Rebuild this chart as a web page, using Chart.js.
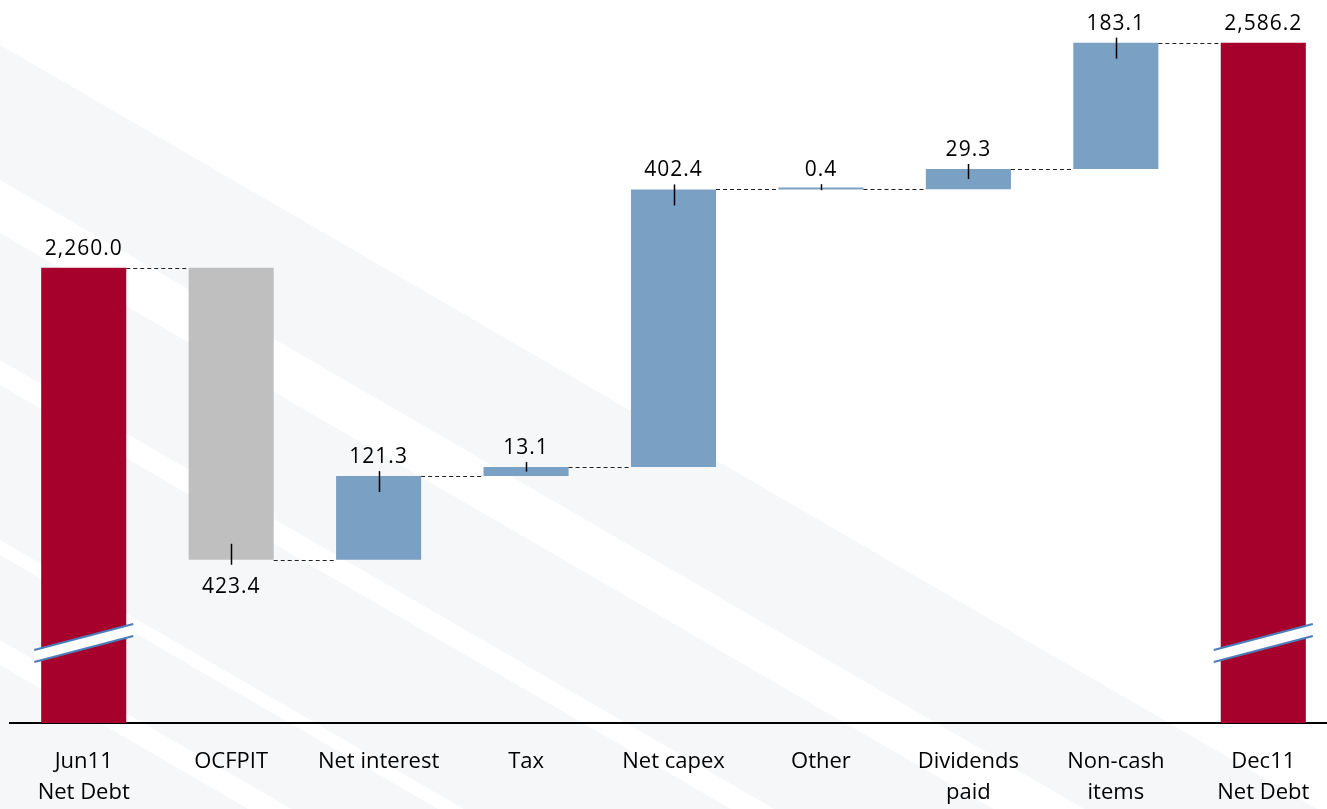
<!DOCTYPE html>
<html>
<head>
<meta charset="utf-8">
<title>Net debt bridge Jun11 - Dec11</title>
<script src="https://cdn.jsdelivr.net/npm/chart.js@4.4.1/dist/chart.umd.min.js"></script>
<style>
  html, body { margin: 0; padding: 0; background: #fff; overflow: hidden; }
  .chart-wrap { position: relative; width: 1340px; height: 809px; }
</style>
</head>
<body>
<div class="chart-wrap"><canvas id="bridgeChart"></canvas></div>
<script>
const categories = [['Jun11', 'Net Debt'], 'OCFPIT', 'Net interest', 'Tax', 'Net capex', 'Other', ['Dividends', 'paid'], ['Non-cash', 'items'], ['Dec11', 'Net Debt']];
const openingDebt = 2260.0;
const closingDebt = 2586.2;
const movements = [-423.4, 121.3, 13.1, 402.4, 0.4, 29.3, 183.1];
const axisMin = 1600;
const axisMax = 2648;

const TOTAL_COLOR = '#A6002C';
const UP_COLOR = '#7AA1C3';
const DOWN_COLOR = '#BFBFBF';
const FONT = '"Open Sans", "Noto Sans", sans-serif';

// floating [start, end] pairs for the bridge
const bars = [[axisMin, openingDebt]];
const colors = [TOTAL_COLOR];
let running = openingDebt;
movements.forEach(m => {
  const next = Math.round((running + m) * 10) / 10;
  bars.push([running, next]);
  colors.push(m < 0 ? DOWN_COLOR : UP_COLOR);
  running = next;
});
bars.push([axisMin, closingDebt]);
colors.push(TOTAL_COLOR);

const labelValues = [openingDebt, ...movements.map(Math.abs), closingDebt];

function fmt(v) {
  return v.toLocaleString('en-US', { minimumFractionDigits: 1, maximumFractionDigits: 1 });
}

// faint diagonal bands behind the chart
const stripes = {
  id: 'stripes',
  beforeDraw(chart) {
    const { ctx, width, height } = chart;
    const slope = 0.58;
    ctx.save();
    ctx.fillStyle = '#fff';
    ctx.fillRect(0, 0, width, height);
    ctx.fillStyle = '#f6f7f9';
    ctx.beginPath();
    ctx.moveTo(0, 45);
    ctx.lineTo(width, 45 + slope * width);
    ctx.lineTo(width, height);
    ctx.lineTo(0, height);
    ctx.closePath();
    ctx.fill();
    ctx.fillStyle = '#fff';
    [[180, 233], [360, 385], [540, 555], [640, 665]].forEach(([a, b]) => {
      ctx.beginPath();
      ctx.moveTo(0, a);
      ctx.lineTo(width, a + slope * width);
      ctx.lineTo(width, b + slope * width);
      ctx.lineTo(0, b);
      ctx.closePath();
      ctx.fill();
    });
    ctx.restore();
  }
};

// connectors, axis-break marks, value labels
const bridgeDecor = {
  id: 'bridgeDecor',
  afterDatasetsDraw(chart) {
    const { ctx } = chart;
    const meta = chart.getDatasetMeta(0);
    const y = chart.scales.y;
    const n = meta.data.length;
    ctx.save();

    ctx.setLineDash([4, 3]);
    ctx.strokeStyle = '#222';
    ctx.lineWidth = 1;
    for (let i = 0; i < n - 1; i++) {
      const a = meta.data[i], b = meta.data[i + 1];
      const yy = Math.round(y.getPixelForValue(bars[i][1])) + 0.5;
      ctx.beginPath();
      ctx.moveTo(a.x + a.width / 2, yy);
      ctx.lineTo(b.x - b.width / 2, yy);
      ctx.stroke();
    }
    ctx.setLineDash([]);

    // break marks on the two totals
    [0, n - 1].forEach(i => {
      const bar = meta.data[i];
      const cy = y.getPixelForValue(1716);
      const half = bar.width / 2 + 7;
      const rise = 13;
      ctx.fillStyle = '#fff';
      ctx.beginPath();
      ctx.moveTo(bar.x - half, cy - 6 + rise);
      ctx.lineTo(bar.x + half, cy - 6 - rise);
      ctx.lineTo(bar.x + half, cy + 6 - rise);
      ctx.lineTo(bar.x - half, cy + 6 + rise);
      ctx.closePath();
      ctx.fill();
      ctx.strokeStyle = '#4A7EBB';
      ctx.lineWidth = 2;
      [-6, 6].forEach(off => {
        ctx.beginPath();
        ctx.moveTo(bar.x - half, cy + off + rise);
        ctx.lineTo(bar.x + half, cy + off - rise);
        ctx.stroke();
      });
    });

    ctx.fillStyle = '#000';
    ctx.strokeStyle = '#000';
    ctx.lineWidth = 1.5;
    ctx.font = '21px ' + FONT;
    ctx.letterSpacing = '1px';
    ctx.textAlign = 'center';
    ctx.textBaseline = 'alphabetic';
    meta.data.forEach((bar, i) => {
      const [s, e] = bars[i];
      const top = y.getPixelForValue(Math.max(s, e));
      const bottom = y.getPixelForValue(Math.min(s, e));
      const isTotal = i === 0 || i === n - 1;
      const rising = isTotal || e >= s;
      const text = fmt(labelValues[i]);
      const tx = Math.round(bar.x) + 0.5;
      const reach = Math.max(1, Math.min(16, (bottom - top) / 2));
      if (rising) {
        ctx.fillText(text, bar.x, top - 13);
        if (!isTotal) {
          ctx.beginPath();
          ctx.moveTo(tx, top - 5);
          ctx.lineTo(tx, top + reach);
          ctx.stroke();
        }
      } else {
        ctx.fillText(text, bar.x, bottom + 33);
        ctx.beginPath();
        ctx.moveTo(tx, bottom + 5);
        ctx.lineTo(tx, bottom - reach);
        ctx.stroke();
      }
    });
    ctx.restore();
  }
};

new Chart(document.getElementById('bridgeChart'), {
  type: 'bar',
  data: {
    labels: categories,
    datasets: [{
      data: bars,
      backgroundColor: colors,
      borderWidth: 0,
      borderSkipped: false,
      barPercentage: 0.577,
      categoryPercentage: 1,
      minBarLength: 2
    }]
  },
  options: {
    responsive: true,
    maintainAspectRatio: false,
    animation: false,
    layout: { padding: { left: 10, right: 3, top: 0, bottom: 1 } },
    plugins: {
      legend: { display: false },
      tooltip: { enabled: false }
    },
    scales: {
      x: {
        grid: { display: false, drawTicks: false },
        border: { display: true, color: '#000', width: 2 },
        ticks: {
          color: '#000',
          font: { family: FONT, size: 22, lineHeight: 1.41 },
          padding: 23,
          maxRotation: 0,
          autoSkip: false
        },
        afterFit(scale) { scale.height = 85; }
      },
      y: { display: false, min: axisMin, max: axisMax }
    }
  },
  plugins: [stripes, bridgeDecor]
});
</script>
</body>
</html>
